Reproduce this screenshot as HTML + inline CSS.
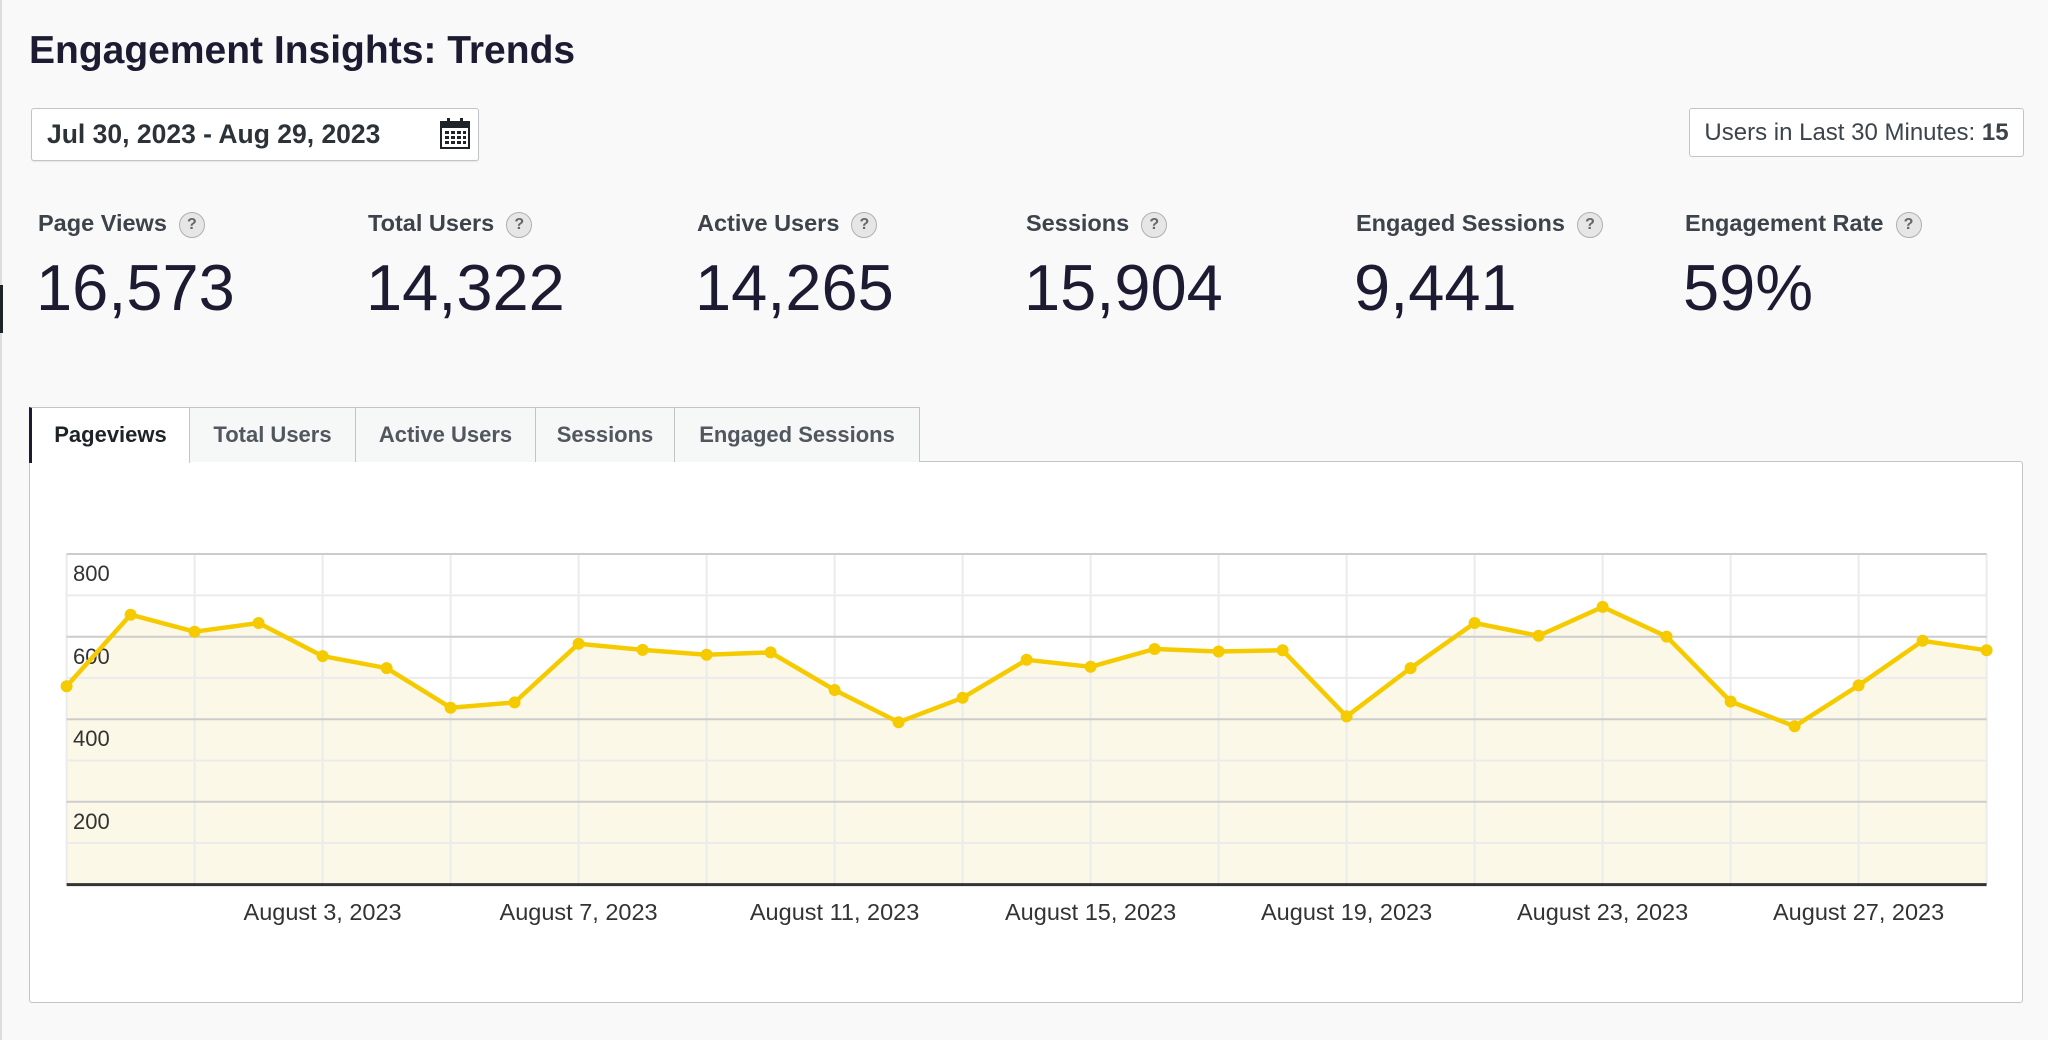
<!DOCTYPE html>
<html><head><meta charset="utf-8"><style>
body{margin:0;width:2048px;height:1040px;background:#f9f9f9;font-family:"Liberation Sans",sans-serif;position:relative;overflow:hidden}
.a{position:absolute;white-space:nowrap}
.lbl{font-size:23.5px;color:#3c434a;font-weight:bold;top:210px}
.q{display:inline-block;width:24px;height:24px;border:1px solid #b0b0b0;border-radius:50%;background:#e6e6e6;color:#666;font-size:16px;text-align:center;line-height:24px;margin-left:12px;vertical-align:2px;font-weight:bold}
.num{font-size:65px;color:#1d1b31;top:250px}
.tab{top:407px;height:55px;border:1px solid #c3c4c7;border-bottom:none;background:#f6f7f7;font-size:22px;font-weight:bold;color:#50575e;line-height:54px;text-align:center;box-sizing:border-box}
</style></head><body>
<div class="a" style="left:0;top:0;width:2px;height:1040px;background:#ddd"></div>
<div class="a" style="left:0;top:285px;width:3px;height:48px;background:#1d2327"></div>
<div class="a" style="left:29px;top:29px;font-size:39px;font-weight:bold;color:#1d1b31">Engagement Insights: Trends</div>
<div class="a" style="left:31px;top:108px;width:448px;height:53px;box-sizing:border-box;border:1px solid #c3c4c7;background:#fff;border-radius:3px;box-shadow:0 1px 1px rgba(0,0,0,.08)"></div>
<div class="a" style="left:47px;top:119px;font-size:26.5px;color:#2c3338;font-weight:bold">Jul 30, 2023 - Aug 29, 2023</div>
<svg class="a" style="left:440px;top:117px" width="30" height="32" viewBox="0 0 30 32"><rect x="1" y="5" width="28" height="26" fill="#fff" stroke="#1d2327" stroke-width="2"/><rect x="1" y="5" width="28" height="6" fill="#1d2327"/><rect x="7" y="1" width="3" height="8" fill="#1d2327"/><rect x="20" y="1" width="3" height="8" fill="#1d2327"/><g fill="#1d2327"><rect x="5" y="14" width="4" height="3"/><rect x="11" y="14" width="4" height="3"/><rect x="17" y="14" width="4" height="3"/><rect x="23" y="14" width="3" height="3"/><rect x="5" y="19" width="4" height="3"/><rect x="11" y="19" width="4" height="3"/><rect x="17" y="19" width="4" height="3"/><rect x="23" y="19" width="3" height="3"/><rect x="5" y="24" width="4" height="3"/><rect x="11" y="24" width="4" height="3"/><rect x="17" y="24" width="4" height="3"/><rect x="23" y="24" width="3" height="3"/></g></svg>
<div class="a" style="left:1689px;top:108px;width:335px;height:49px;box-sizing:border-box;border:1px solid #c3c4c7;background:#fff;border-radius:3px;font-size:24px;color:#3c434a;line-height:47px;text-align:center">Users in Last 30 Minutes: <b>15</b></div>

<div class="a lbl" style="left:38px">Page Views<span class="q">?</span></div>
<div class="a lbl" style="left:368px">Total Users<span class="q">?</span></div>
<div class="a lbl" style="left:697px">Active Users<span class="q">?</span></div>
<div class="a lbl" style="left:1026px">Sessions<span class="q">?</span></div>
<div class="a lbl" style="left:1356px">Engaged Sessions<span class="q">?</span></div>
<div class="a lbl" style="left:1685px">Engagement Rate<span class="q">?</span></div>
<div class="a num" style="left:36px">16,573</div>
<div class="a num" style="left:366px">14,322</div>
<div class="a num" style="left:695px">14,265</div>
<div class="a num" style="left:1024px">15,904</div>
<div class="a num" style="left:1354px">9,441</div>
<div class="a num" style="left:1683px">59%</div>

<div class="a" style="left:29px;top:461px;width:1994px;height:542px;box-sizing:border-box;border:1px solid #c3c4c7;background:#fff;border-radius:0 3px 3px 3px"></div>
<div class="a tab" style="left:29px;width:161px;background:#fff;color:#1d2327;border-left:3px solid #1d1b31;height:56px">Pageviews</div>
<div class="a tab" style="left:189px;width:167px">Total Users</div>
<div class="a tab" style="left:355px;width:181px">Active Users</div>
<div class="a tab" style="left:535px;width:140px">Sessions</div>
<div class="a tab" style="left:674px;width:246px">Engaged Sessions</div>

<svg class="a" style="left:0;top:0" width="2048" height="1040">
<polygon fill="#fcf8e8" points="66.6,884.6 66.6,686.2 130.6,614.7 194.6,631.7 258.6,623.0 322.6,656.1 386.6,668.1 450.6,707.7 514.6,702.4 578.6,643.7 642.6,649.9 706.6,654.8 770.6,652.4 834.6,690.0 898.6,722.2 962.6,697.8 1026.6,659.8 1090.6,666.8 1154.6,649.0 1218.6,651.5 1282.6,650.3 1346.6,716.4 1410.6,668.1 1474.6,623.0 1538.6,635.8 1602.6,606.9 1666.6,636.6 1730.6,701.5 1794.6,726.3 1858.6,685.4 1922.6,640.8 1986.6,650.3 1986.6,884.6"/>
<g stroke="#ebebeb" stroke-width="2">
<line x1="66.6" y1="595.4" x2="1986.6" y2="595.4"/><line x1="66.6" y1="677.9" x2="1986.6" y2="677.9"/><line x1="66.6" y1="760.5" x2="1986.6" y2="760.5"/><line x1="66.6" y1="843" x2="1986.6" y2="843"/>
<line x1="66.6" y1="554" x2="66.6" y2="884"/><line x1="194.6" y1="554" x2="194.6" y2="884"/><line x1="322.6" y1="554" x2="322.6" y2="884"/><line x1="450.6" y1="554" x2="450.6" y2="884"/><line x1="578.6" y1="554" x2="578.6" y2="884"/><line x1="706.6" y1="554" x2="706.6" y2="884"/><line x1="834.6" y1="554" x2="834.6" y2="884"/><line x1="962.6" y1="554" x2="962.6" y2="884"/><line x1="1090.6" y1="554" x2="1090.6" y2="884"/><line x1="1218.6" y1="554" x2="1218.6" y2="884"/><line x1="1346.6" y1="554" x2="1346.6" y2="884"/><line x1="1474.6" y1="554" x2="1474.6" y2="884"/><line x1="1602.6" y1="554" x2="1602.6" y2="884"/><line x1="1730.6" y1="554" x2="1730.6" y2="884"/><line x1="1858.6" y1="554" x2="1858.6" y2="884"/><line x1="1986.6" y1="554" x2="1986.6" y2="884"/>
</g>
<g stroke="#cccccc" stroke-width="2">
<line x1="66.6" y1="554" x2="1986.6" y2="554"/><line x1="66.6" y1="636.7" x2="1986.6" y2="636.7"/><line x1="66.6" y1="719.2" x2="1986.6" y2="719.2"/><line x1="66.6" y1="801.8" x2="1986.6" y2="801.8"/>
</g>
<line x1="66.6" y1="884.6" x2="1986.6" y2="884.6" stroke="#333" stroke-width="3"/>
<g font-family="Liberation Sans, sans-serif" font-size="22" fill="#333">
<text x="73" y="581">800</text><text x="73" y="664">600</text><text x="73" y="746">400</text><text x="73" y="829">200</text>
</g>
<g font-family="Liberation Sans, sans-serif" font-size="23.5" fill="#333" text-anchor="middle">
<text x="322.6" y="920">August 3, 2023</text><text x="578.6" y="920">August 7, 2023</text><text x="834.6" y="920">August 11, 2023</text><text x="1090.6" y="920">August 15, 2023</text><text x="1346.6" y="920">August 19, 2023</text><text x="1602.6" y="920">August 23, 2023</text><text x="1858.6" y="920">August 27, 2023</text>
</g>
<polyline fill="none" stroke="#f5cb00" stroke-width="4.5" stroke-linejoin="round" points="66.6,686.2 130.6,614.7 194.6,631.7 258.6,623.0 322.6,656.1 386.6,668.1 450.6,707.7 514.6,702.4 578.6,643.7 642.6,649.9 706.6,654.8 770.6,652.4 834.6,690.0 898.6,722.2 962.6,697.8 1026.6,659.8 1090.6,666.8 1154.6,649.0 1218.6,651.5 1282.6,650.3 1346.6,716.4 1410.6,668.1 1474.6,623.0 1538.6,635.8 1602.6,606.9 1666.6,636.6 1730.6,701.5 1794.6,726.3 1858.6,685.4 1922.6,640.8 1986.6,650.3"/>
<g fill="#f5cb00">
<circle cx="66.6" cy="686.2" r="6"/><circle cx="130.6" cy="614.7" r="6"/><circle cx="194.6" cy="631.7" r="6"/><circle cx="258.6" cy="623.0" r="6"/><circle cx="322.6" cy="656.1" r="6"/><circle cx="386.6" cy="668.1" r="6"/><circle cx="450.6" cy="707.7" r="6"/><circle cx="514.6" cy="702.4" r="6"/><circle cx="578.6" cy="643.7" r="6"/><circle cx="642.6" cy="649.9" r="6"/><circle cx="706.6" cy="654.8" r="6"/><circle cx="770.6" cy="652.4" r="6"/><circle cx="834.6" cy="690.0" r="6"/><circle cx="898.6" cy="722.2" r="6"/><circle cx="962.6" cy="697.8" r="6"/><circle cx="1026.6" cy="659.8" r="6"/><circle cx="1090.6" cy="666.8" r="6"/><circle cx="1154.6" cy="649.0" r="6"/><circle cx="1218.6" cy="651.5" r="6"/><circle cx="1282.6" cy="650.3" r="6"/><circle cx="1346.6" cy="716.4" r="6"/><circle cx="1410.6" cy="668.1" r="6"/><circle cx="1474.6" cy="623.0" r="6"/><circle cx="1538.6" cy="635.8" r="6"/><circle cx="1602.6" cy="606.9" r="6"/><circle cx="1666.6" cy="636.6" r="6"/><circle cx="1730.6" cy="701.5" r="6"/><circle cx="1794.6" cy="726.3" r="6"/><circle cx="1858.6" cy="685.4" r="6"/><circle cx="1922.6" cy="640.8" r="6"/><circle cx="1986.6" cy="650.3" r="6"/>
</g>
</svg>
</body></html>
